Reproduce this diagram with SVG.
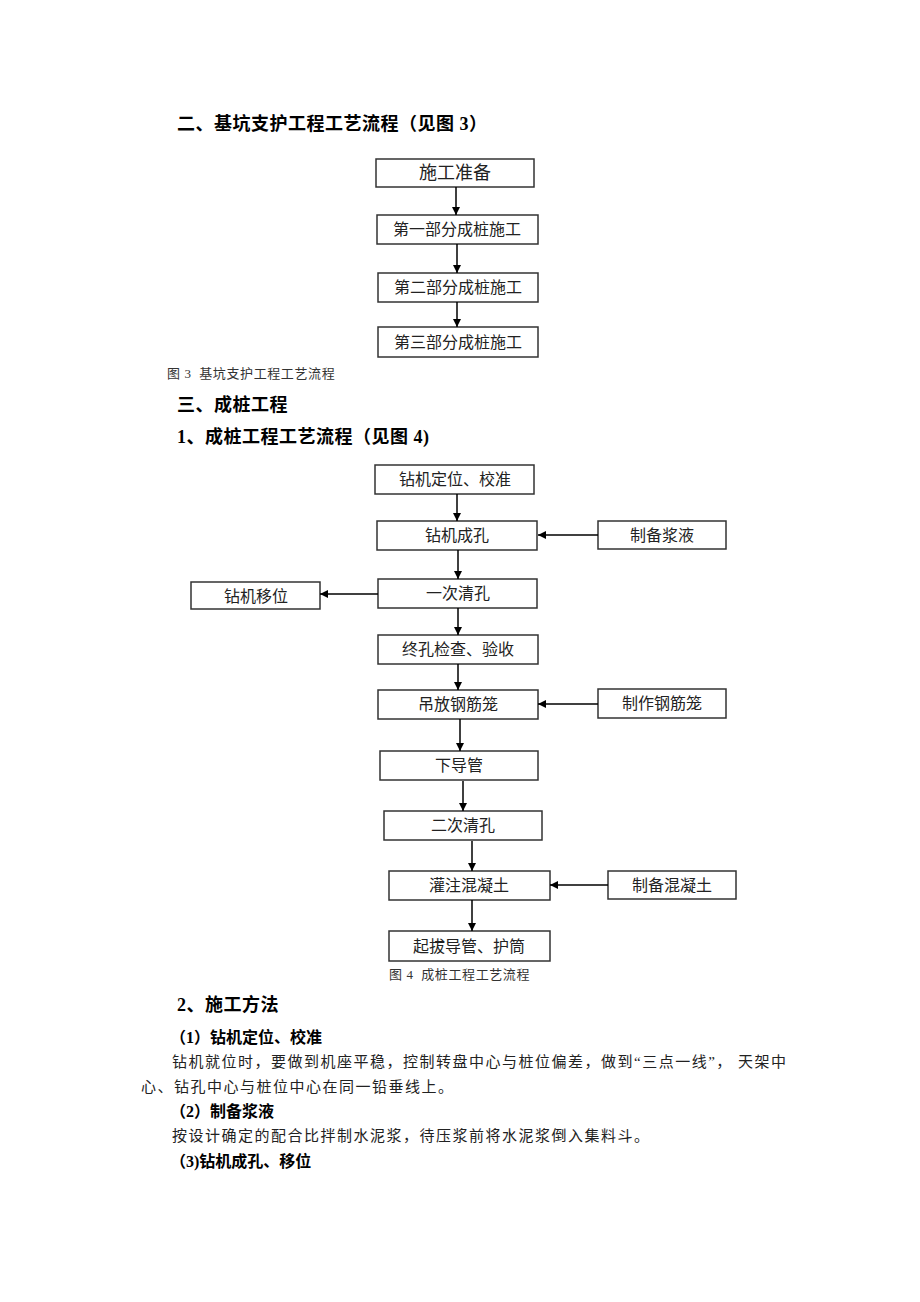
<svg xmlns="http://www.w3.org/2000/svg" width="920" height="1302" viewBox="0 0 920 1302">
<defs>
<marker id="ah" viewBox="0 0 10 10" refX="10" refY="5" markerWidth="8" markerHeight="9" markerUnits="userSpaceOnUse" orient="auto">
<path d="M0,0 L10,5 L0,10 z" fill="#000"/>
</marker>
<style>
.h{font-family:"Liberation Serif","Noto Sans CJK SC",serif;font-weight:bold;font-size:18px;letter-spacing:0.5px;fill:#000}
.s{font-family:"Liberation Serif","Noto Sans CJK SC",serif;font-weight:bold;font-size:16px;fill:#000}
.p{font-family:"Liberation Serif","Noto Sans CJK SC",serif;font-size:15px;letter-spacing:1.5px;fill:#222}
.cap{font-family:"Liberation Serif","Noto Sans CJK SC",serif;font-size:13px;letter-spacing:0.6px;fill:#333}
.box rect{fill:#fff;stroke:#333;stroke-width:1.5}
.box text{font-family:"Liberation Serif","Noto Sans CJK SC",serif;font-size:16px;fill:#222;text-anchor:middle}
.conn line{stroke:#000;stroke-width:1.5;marker-end:url(#ah)}
</style>
</defs>
<rect width="920" height="1302" fill="#fff"/>

<text class="h" x="177" y="130">二、基坑支护工程工艺流程（见图 3）</text>

<g id="n_prep" class="box"><rect x="376" y="159" width="158" height="28"/><text x="455" y="179" style="font-size:18px">施工准备</text></g>
<g id="n_p1" class="box"><rect x="377" y="215" width="161" height="29"/><text x="457" y="235">第一部分成桩施工</text></g>
<g id="n_p2" class="box"><rect x="378" y="273" width="160" height="29"/><text x="458" y="293">第二部分成桩施工</text></g>
<g id="n_p3" class="box"><rect x="378" y="327" width="160" height="30"/><text x="458" y="348">第三部分成桩施工</text></g>

<text class="cap" x="167" y="378">图 3&#160;&#160;基坑支护工程工艺流程</text>

<text class="h" x="177" y="411">三、成桩工程</text>
<text class="h" x="177" y="443">1、成桩工程工艺流程（见图 4)</text>

<g id="n_pos" class="box"><rect x="375" y="465" width="159" height="29"/><text x="455" y="485">钻机定位、校准</text></g>
<g id="n_drill" class="box"><rect x="377" y="521" width="160" height="29"/><text x="457" y="541">钻机成孔</text></g>
<g id="n_slurry" class="box"><rect x="598" y="521" width="128" height="28"/><text x="662" y="541">制备浆液</text></g>
<g id="n_clean1" class="box"><rect x="378" y="579" width="159" height="29"/><text x="458" y="599">一次清孔</text></g>
<g id="n_move" class="box"><rect x="191" y="582" width="129" height="27"/><text x="256" y="602">钻机移位</text></g>
<g id="n_check" class="box"><rect x="378" y="635" width="160" height="29"/><text x="458" y="655">终孔检查、验收</text></g>
<g id="n_cage" class="box"><rect x="378" y="690" width="160" height="29"/><text x="458" y="710">吊放钢筋笼</text></g>
<g id="n_makecage" class="box"><rect x="598" y="689" width="128" height="29"/><text x="662" y="709">制作钢筋笼</text></g>
<g id="n_pipe" class="box"><rect x="380" y="751" width="158" height="29"/><text x="459" y="771">下导管</text></g>
<g id="n_clean2" class="box"><rect x="384" y="811" width="158" height="29"/><text x="463" y="831">二次清孔</text></g>
<g id="n_pour" class="box"><rect x="389" y="871" width="161" height="29"/><text x="469" y="891">灌注混凝土</text></g>
<g id="n_concrete" class="box"><rect x="608" y="871" width="128" height="28"/><text x="672" y="891">制备混凝土</text></g>
<g id="n_pull" class="box"><rect x="389" y="931" width="161" height="30"/><text x="469" y="952">起拔导管、护筒</text></g>

<text class="cap" x="389" y="979">图 4&#160;&#160;成桩工程工艺流程</text>

<g id="connectors" class="conn">
<line x1="456" y1="187" x2="456" y2="215"/>
<line x1="457" y1="244" x2="457" y2="273"/>
<line x1="457" y1="302" x2="457" y2="327"/>
<line x1="457" y1="494" x2="457" y2="521"/>
<line x1="598" y1="535" x2="538" y2="535"/>
<line x1="458" y1="550" x2="458" y2="579"/>
<line x1="378" y1="594" x2="320" y2="594"/>
<line x1="458" y1="608" x2="458" y2="635"/>
<line x1="458" y1="664" x2="458" y2="690"/>
<line x1="598" y1="704" x2="538" y2="704"/>
<line x1="460" y1="719" x2="460" y2="751"/>
<line x1="463" y1="781" x2="463" y2="811"/>
<line x1="472" y1="841" x2="472" y2="871"/>
<line x1="608" y1="885" x2="550" y2="885"/>
<line x1="472" y1="900" x2="472" y2="931"/>
</g>

<text class="h" x="177" y="1011">2、施工方法</text>
<text class="s" x="170" y="1043">（1）钻机定位、校准</text>
<text class="p" x="172" y="1067">钻机就位时，要做到机座平稳，控制转盘中心与桩位偏差，做到“三点一线”，&#160;天架中</text>
<text class="p" x="141" y="1092">心、钻孔中心与桩位中心在同一铅垂线上。</text>
<text class="s" x="170" y="1117">（2）制备浆液</text>
<text class="p" x="172" y="1141">按设计确定的配合比拌制水泥浆，待压浆前将水泥浆倒入集料斗。</text>
<text class="s" x="170" y="1167">（3)钻机成孔、移位</text>
</svg>
